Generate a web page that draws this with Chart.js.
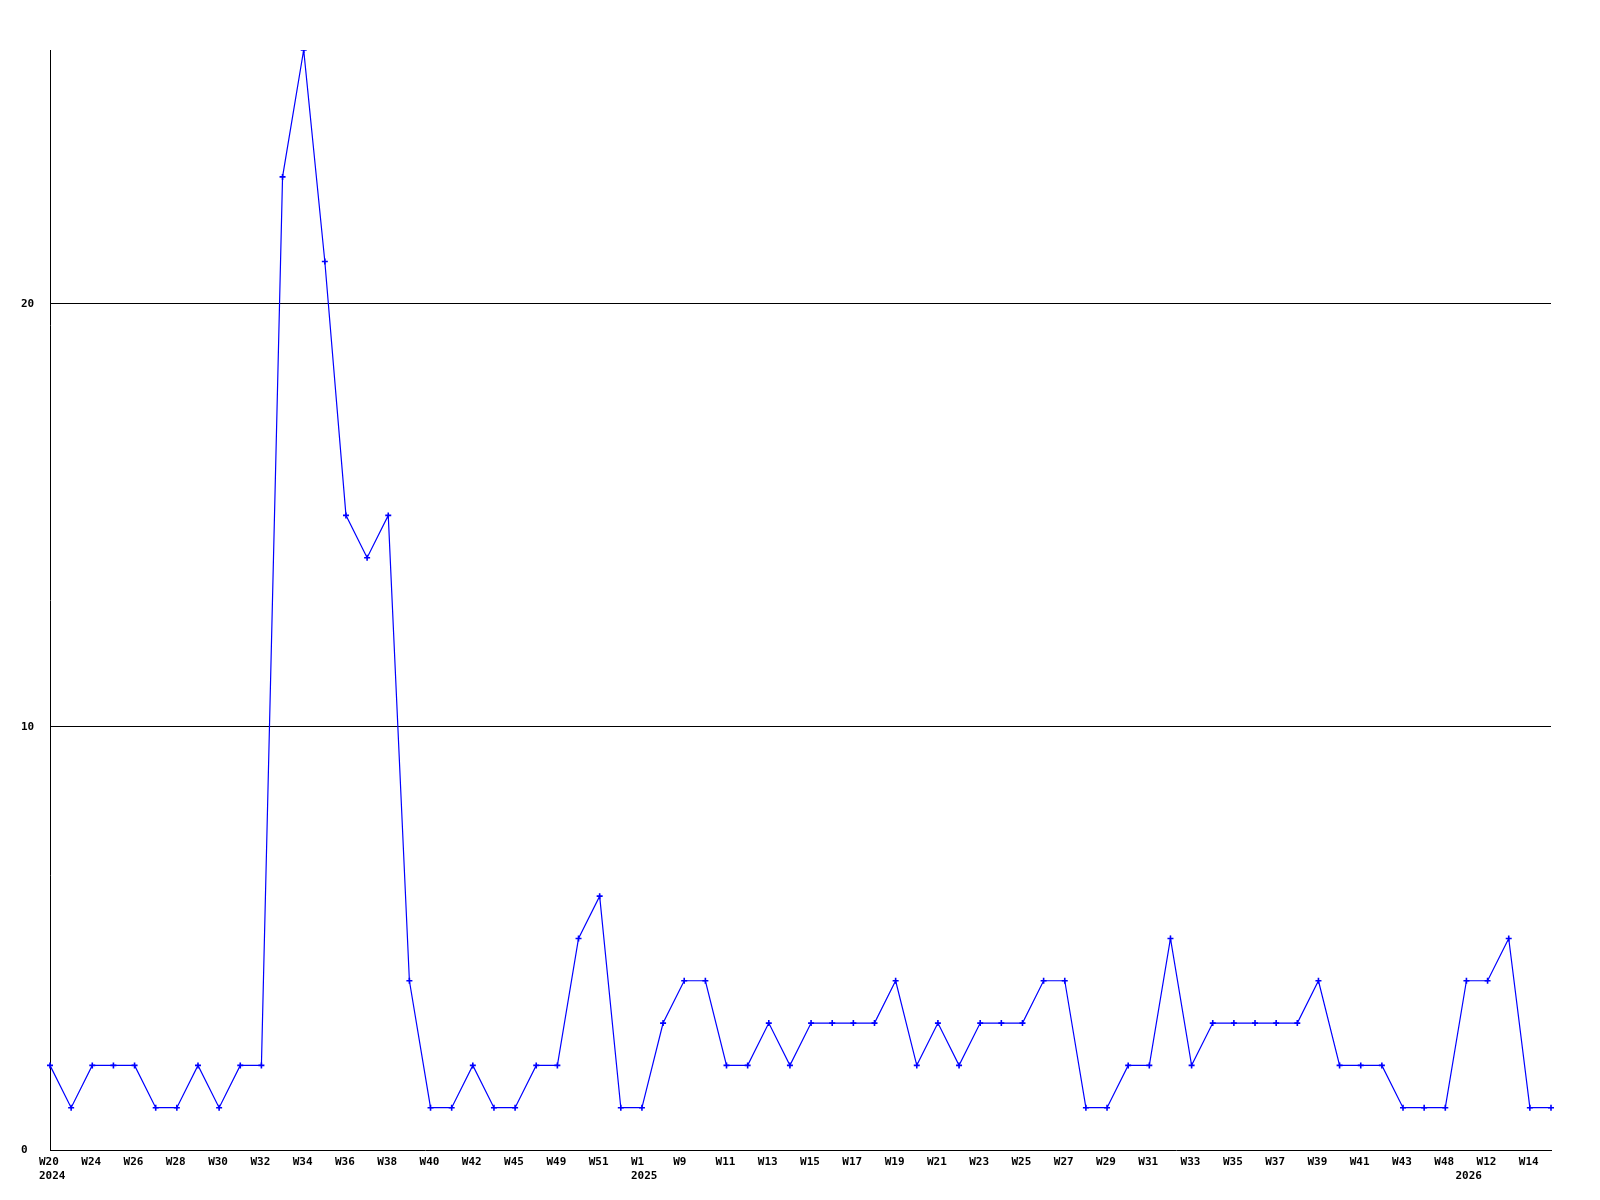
<!DOCTYPE html>
<html>
<head>
<meta charset="utf-8">
<script src="https://cdn.jsdelivr.net/npm/chart.js@4/dist/chart.umd.min.js"></script>
<style>
  html, body { margin: 0; padding: 0; background: #fff; }
  #wrap { width: 1600px; height: 1200px; }
</style>
</head>
<body>
<div id="wrap"><canvas id="weekChart" width="1600" height="1200"></canvas></div>
<script>
// weekly counts, one per point
const counts = [
  2, 1, 2, 2, 2, 1, 1, 2, 1, 2, 2, 23, 26, 21, 15, 14, 15, 4, 1, 1,
  2, 1, 1, 2, 2, 5, 6, 1, 1, 3, 4, 4, 2, 2, 3, 2, 3, 3, 3, 3,
  4, 2, 3, 2, 3, 3, 3, 4, 4, 1, 1, 2, 2, 5, 2, 3, 3, 3, 3, 3,
  4, 2, 2, 2, 1, 1, 1, 4, 4, 5, 1, 1,
];

// labels shown on every second point
const weekTicks = [
  'W20', 'W24', 'W26', 'W28', 'W30', 'W32', 'W34', 'W36', 'W38', 'W40',
  'W42', 'W45', 'W49', 'W51', 'W1', 'W9', 'W11', 'W13', 'W15', 'W17',
  'W19', 'W21', 'W23', 'W25', 'W27', 'W29', 'W31', 'W33', 'W35', 'W37',
  'W39', 'W41', 'W43', 'W48', 'W12', 'W14',
];

const yearTicks = { 0: '2024', 28: '2025', 67: '2026' };
const yTicks = [0, 10, 20];
const yMax = 26;

const labels = counts.map((v, i) => (i % 2 === 0 ? weekTicks[i / 2] : ''));

const tickFont = { family: 'DejaVu Sans Mono', size: 11, weight: 'bold' };

const ctx = document.getElementById('weekChart').getContext('2d');

const weekChart = new Chart(ctx, {
  type: 'line',
  data: {
    labels,
    datasets: [
      {
        data: counts,
        borderColor: '#0000ff',
        backgroundColor: '#0000ff',
        borderWidth: 1.2,
        pointStyle: 'cross',
        pointRadius: 3,
        pointBorderWidth: 1.6,
        fill: false,
        tension: 0,
      },
    ],
  },
  options: {
    responsive: false,
    animation: false,
    layout: { padding: { top: 50, left: 21, right: 49, bottom: 0 } },
    plugins: {
      legend: { display: false },
      tooltip: { enabled: false },
    },
    scales: {
      x: {
        offset: false,
        grid: { display: false, drawTicks: false },
        border: { color: '#000', width: 1 },
        ticks: {
          autoSkip: false,
          maxRotation: 0,
          align: 'start',
          labelOffset: -11,
          padding: 6,
          color: '#000',
          font: tickFont,
          callback: (value, index) => {
            const wk = labels[index];
            const yr = yearTicks[index];
            if (yr) return [wk, yr];
            return wk;
          },
        },
        afterFit: (scale) => {
          scale.height = 50;
        },
      },
      y: {
        min: 0,
        max: yMax,
        afterBuildTicks: (scale) => {
          scale.ticks = yTicks.map((v) => ({ value: v }));
        },
        grid: {
          color: (c) => (c.tick && c.tick.value === 0 ? 'rgba(0,0,0,0)' : '#000'),
          lineWidth: 1,
          drawTicks: false,
        },
        border: { color: '#000', width: 1 },
        ticks: {
          color: '#000',
          font: tickFont,
          crossAlign: 'far',
          padding: 4,
        },
        afterFit: (scale) => {
          scale.width = 29;
        },
      },
    },
  },
});
</script>
</body>
</html>
